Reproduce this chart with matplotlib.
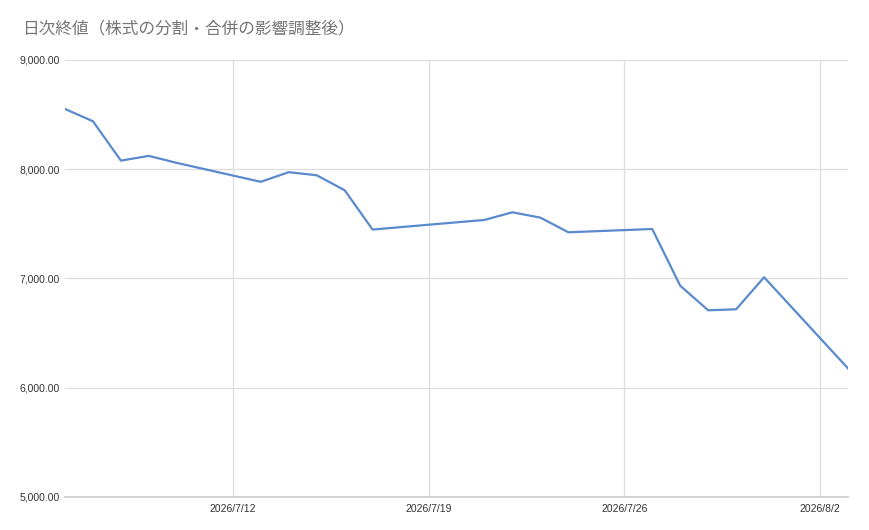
# 日次終値の折れ線グラフ
import matplotlib
matplotlib.use('Agg')
import matplotlib.pyplot as plt
import matplotlib.dates as mdates
import matplotlib.ticker as mticker
import pandas as pd

plt.rcParams['font.family'] = ['Noto Sans CJK JP', 'DejaVu Sans']

# データ（取引日のみ、7/20は海の日）
dates = ['2026-07-06', '2026-07-07', '2026-07-08', '2026-07-09', '2026-07-10',
         '2026-07-13', '2026-07-14', '2026-07-15', '2026-07-16', '2026-07-17',
         '2026-07-21', '2026-07-22', '2026-07-23', '2026-07-24',
         '2026-07-27', '2026-07-28', '2026-07-29', '2026-07-30', '2026-07-31',
         '2026-08-03']
close = [8552, 8439, 8079, 8122, 8058,
         7885, 7973, 7945, 7808, 7448,
         7536, 7606, 7557, 7423,
         7453, 6934, 6709, 6718, 7011,
         6177]
tick_dates = ['2026-07-12', '2026-07-19', '2026-07-26', '2026-08-02']
tick_labels = ['2026/7/12', '2026/7/19', '2026/7/26', '2026/8/2']
title = '日次終値（株式の分割・合併の影響調整後）'

x = pd.to_datetime(dates)
ticks = pd.to_datetime(tick_dates)

fig = plt.figure(figsize=(8.7, 5.3), dpi=100)
ax = fig.add_axes([0.0747, 0.0623, 0.9, 0.8245])

ax.plot(x, close, color='#5a8acd', linewidth=1.6, solid_joinstyle='round')

ax.set_xlim(x[0], x[-1])
ax.set_ylim(5000, 9000)
ax.set_yticks([5000, 6000, 7000, 8000, 9000])
ax.yaxis.set_major_formatter(mticker.FuncFormatter(lambda v, p: f'{v:,.2f}'))
ax.set_xticks(ticks)
ax.set_xticklabels(tick_labels)

ax.grid(True, color='#dddddd', linewidth=0.9)
ax.set_axisbelow(True)
for s in ['top', 'right', 'left']:
    ax.spines[s].set_visible(False)
ax.spines['bottom'].set_color('#cccccc')
ax.spines['bottom'].set_linewidth(1.2)
ax.tick_params(length=0, labelsize=7.5, colors='#333333')
ax.tick_params(axis='y', pad=4)
ax.tick_params(axis='x', pad=5)
for lab in ax.get_yticklabels() + ax.get_xticklabels():
    lab.set_family(['Liberation Sans', 'DejaVu Sans'])

fig.text(0.025, 0.945, title, fontsize=12, color='#757575', ha='left', va='center')

fig.savefig('out.png', dpi=100, facecolor='white')
